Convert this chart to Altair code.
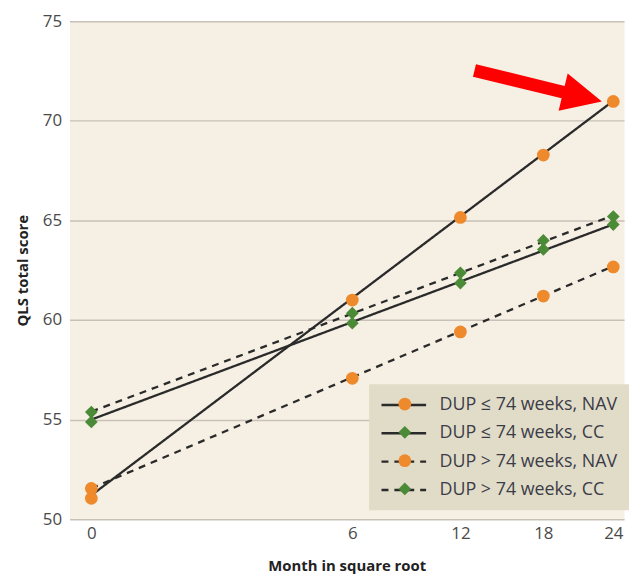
import altair as alt
import pandas as pd

# ---- data ----
months = [0, 6, 12, 18, 24]
nav_short = [51.05, 61.0, 65.15, 68.28, 70.97]   # DUP <= 74 weeks, NAV
cc_short = [54.88, 59.84, 61.85, 63.54, 64.79]   # DUP <= 74 weeks, CC
nav_long = [51.54, 57.07, 59.4, 61.2, 62.66]     # DUP > 74 weeks, NAV
cc_long = [55.38, 60.34, 62.37, 63.99, 65.19]    # DUP > 74 weeks, CC

fit_months = [0, 24]
fit_nav_short = [51.2, 71.0]
fit_cc_short = [55.0, 64.8]
fit_nav_long = [51.55, 62.7]
fit_cc_long = [55.4, 65.25]

labels = ["DUP \u2264 74 weeks, NAV", "DUP \u2264 74 weeks, CC",
          "DUP > 74 weeks, NAV", "DUP > 74 weeks, CC"]
marker_keys = ["nav_s", "cc_s", "nav_l", "cc_l"]

y_ticks = [50, 55, 60, 65, 70, 75]
x_ticks = [0, 6, 12, 18, 24]

# annotation arrow (centre in data units)
arrow_month = [17.59]
arrow_score = [71.745]

# ---- styles ----
ORANGE = "#ef8a2c"
GREEN = "#4b8b37"
LINE = "#2a2a2a"
BG = "#f5efe4"
LEG_BG = "#e1dcc8"
GRID = "#c9c1b7"
FONT = "Open Sans"
colors = [ORANGE, GREEN, ORANGE, GREEN]
shapes = ["circle", "diamond", "circle", "diamond"]
dashes = [[1, 0], [1, 0], [7, 6], [7, 6]]
ARROW_PATH = "M-1,-0.097L0.392,-0.097L0.392,-0.292L1,0L0.392,0.292L0.392,0.097L-1,0.097Z"

series_pts = [nav_short, cc_short, nav_long, cc_long]
series_fit = [fit_nav_short, fit_cc_short, fit_nav_long, fit_cc_long]

pts = pd.DataFrame([
    {"key": k, "month": m, "score": s}
    for k, vals in zip(marker_keys, series_pts)
    for m, s in zip(months, vals)
])
fits = pd.DataFrame([
    {"grp": g, "month": m, "score": s}
    for g, vals in zip(labels, series_fit)
    for m, s in zip(fit_months, vals)
])
arrow_df = pd.DataFrame({"month": arrow_month, "score": arrow_score})

x_enc = alt.X(
    "month:Q",
    scale=alt.Scale(type="sqrt", domain=[-0.042, 25], nice=False, zero=False),
    axis=alt.Axis(values=x_ticks, title="Month in square root", grid=False,
                  domain=False, ticks=False, tickSize=0, labelPadding=6,
                  titlePadding=18, labelFlush=False),
)
y_enc = alt.Y(
    "score:Q",
    scale=alt.Scale(domain=[50, 75], nice=False, zero=False),
    axis=alt.Axis(values=y_ticks, title="QLS total score", grid=True,
                  gridColor=GRID, gridWidth=1.5, domain=False, ticks=False,
                  tickSize=0, labelPadding=8, titlePadding=12),
)

leg_x = 302
leg_y = 366

line_legend = alt.Legend(
    orient="none", legendX=leg_x, legendY=leg_y, title=None,
    fillColor=LEG_BG, padding=11,
    symbolType="M-1,0L4.29,0", symbolSize=289,
    symbolStrokeWidth=2.5, symbolStrokeColor=LINE, symbolFillColor="transparent",
    labelFont=FONT, labelFontSize=18, labelColor="#3c3c48", labelLimit=400,
    labelOffset=40, rowPadding=9.5,
)
marker_legend = alt.Legend(
    orient="none", legendX=leg_x + 16, legendY=leg_y, title=None,
    padding=11, symbolSize=165, symbolStrokeWidth=0,
    labelFont=FONT, labelFontSize=18, labelOpacity=0, labelExpr="''",
    rowPadding=10.5,
)

lines = alt.Chart(fits).mark_line(color=LINE, strokeWidth=2.3).encode(
    x=x_enc, y=y_enc,
    strokeDash=alt.StrokeDash("grp:N", scale=alt.Scale(domain=labels, range=dashes),
                              legend=line_legend),
)
points = alt.Chart(pts).mark_point(filled=True, opacity=1, strokeWidth=0, size=165).encode(
    x=x_enc, y=y_enc,
    color=alt.Color("key:N", scale=alt.Scale(domain=marker_keys, range=colors),
                    legend=marker_legend),
    shape=alt.Shape("key:N", scale=alt.Scale(domain=marker_keys, range=shapes),
                    legend=marker_legend),
)
arrow = alt.Chart(arrow_df).mark_point(
    shape=ARROW_PATH, filled=True, color="#ff0000", opacity=1,
    strokeWidth=0, size=17477, angle=13.7,
).encode(x=x_enc, y=y_enc)

chart = alt.layer(lines, points, arrow).properties(
    width=559, height=502, background="white",
    padding={"left": 7, "top": 2, "right": 0, "bottom": 0},
).configure_view(
    fill=BG, strokeOpacity=0,
).configure_axis(
    labelFont=FONT, labelFontSize=17, labelColor="#4a4a4a",
    titleFont=FONT, titleFontSize=15, titleFontWeight="bold", titleColor="#222222",
)

chart.save("out.html", embed_options={"renderer": "svg", "actions": False})
